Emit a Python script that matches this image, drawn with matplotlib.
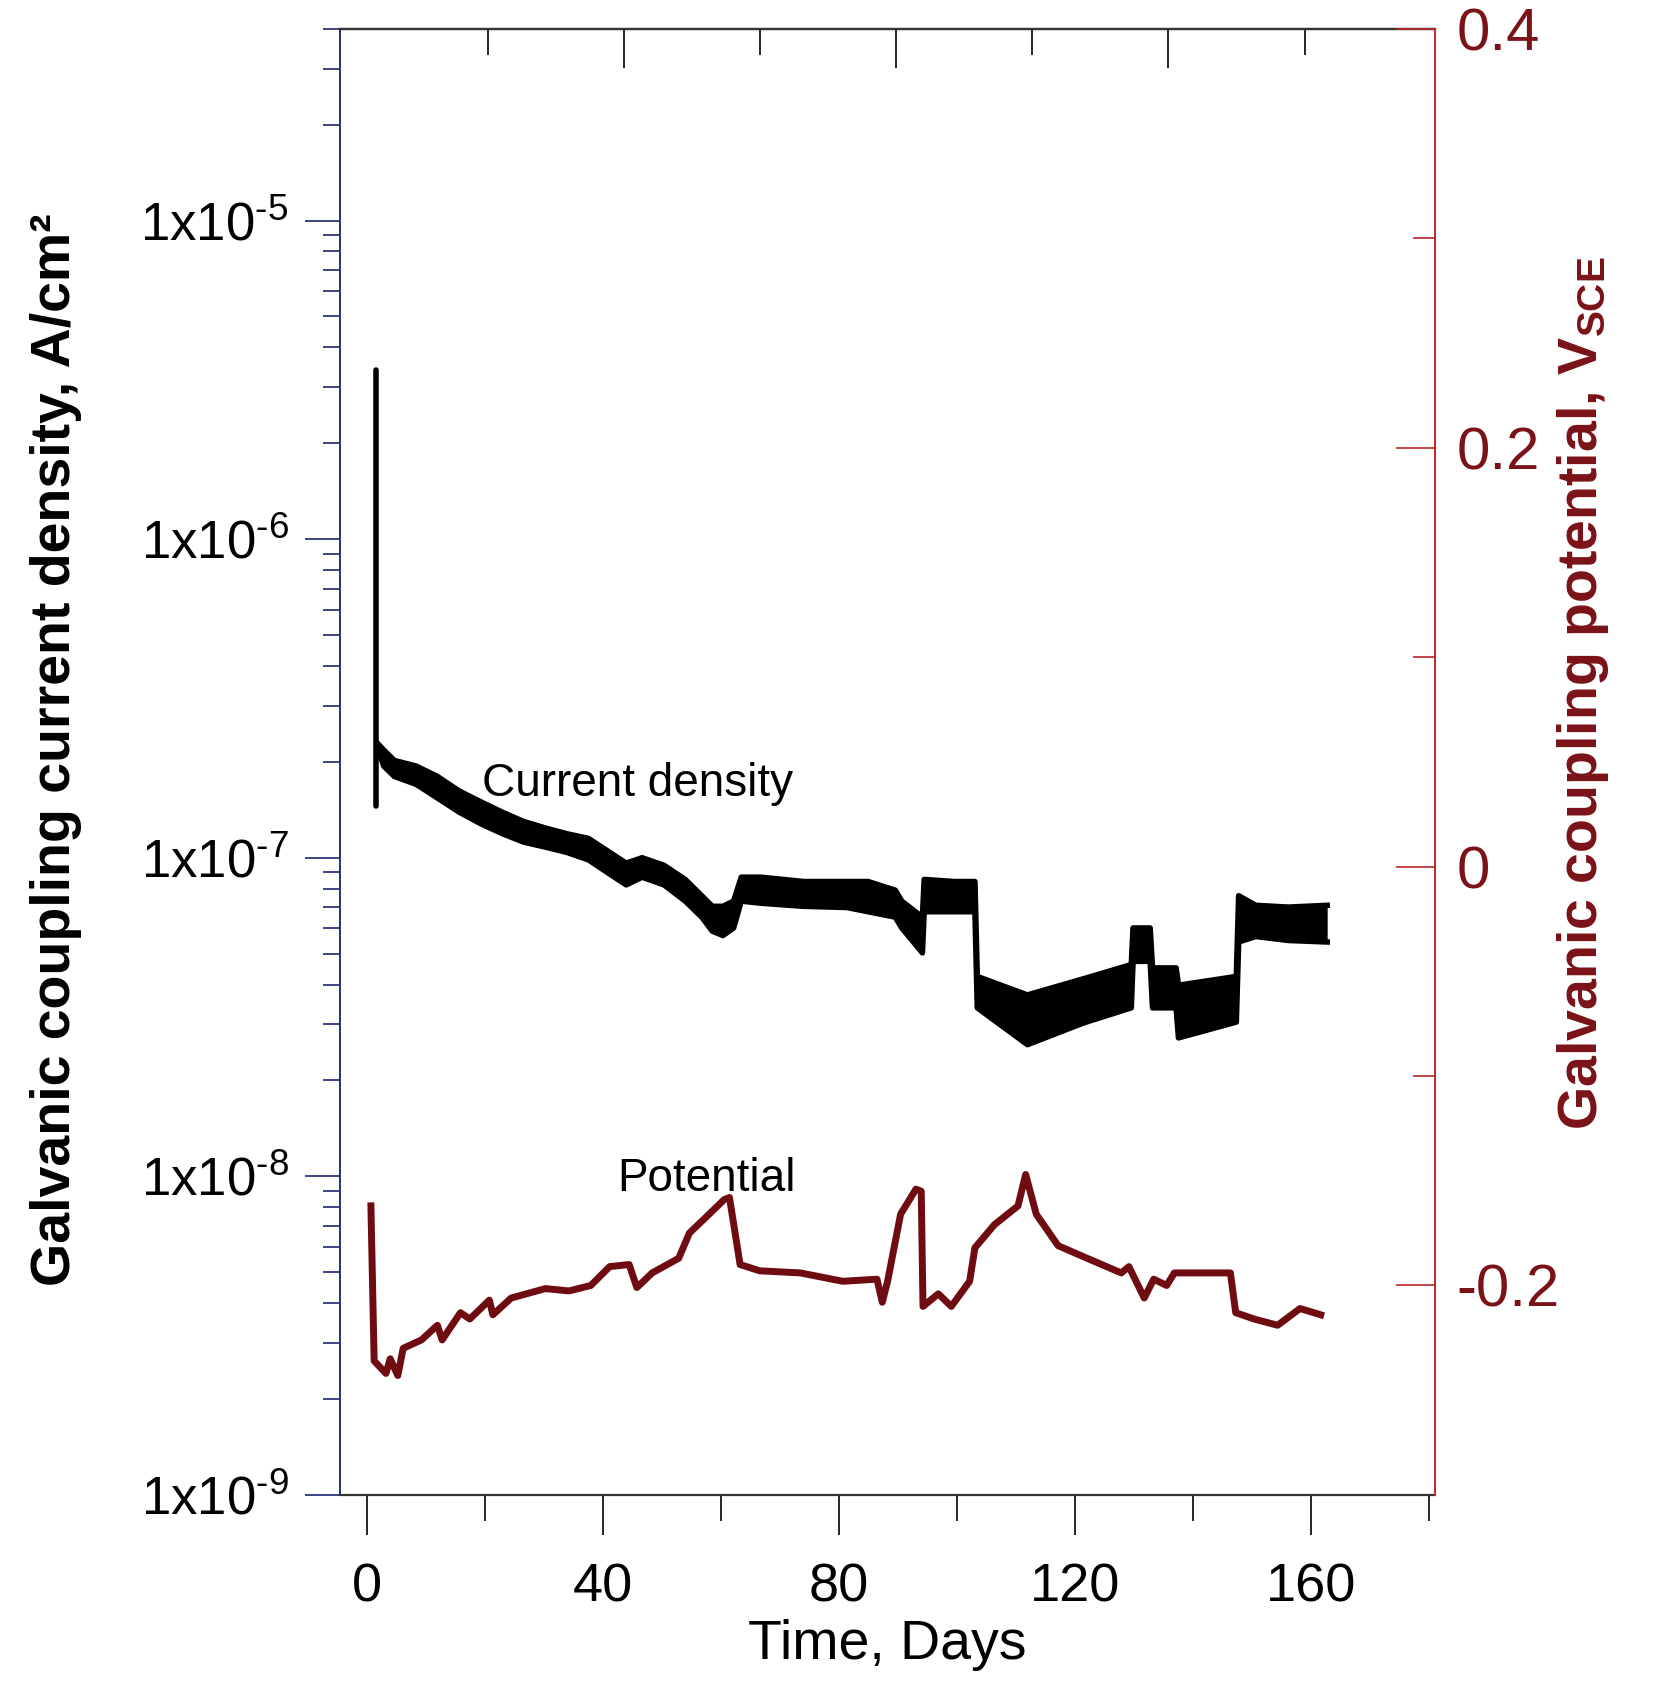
import numpy as np
import matplotlib
matplotlib.use("Agg")
import matplotlib.pyplot as plt
from matplotlib.ticker import FixedLocator, FixedFormatter, LogLocator, NullFormatter

plt.rcParams['font.family'] = ['Liberation Sans', 'DejaVu Sans']
plt.rcParams['mathtext.default'] = 'regular'

# current density band, days / A cm-2
cd_day = [2.0, 2.9, 4.7, 8.4, 12.0, 15.7, 19.3, 23.0, 26.6, 30.3, 33.9, 37.6, 41.2, 44.0, 46.7,
          50.4, 54.0, 56.8, 58.6, 60.4, 62.2, 63.5, 66.8, 74.1, 81.4, 85.0, 89.6, 90.7, 94.2, 94.5,
          99.6, 103.1, 103.5, 112.0, 121.5, 129.6, 129.9, 132.8, 133.2, 137.2, 137.6, 147.4, 147.8,
          150.7, 156.2, 162.8]
cd_low = [2.18e-7, 1.94e-7, 1.80e-7, 1.70e-7, 1.54e-7, 1.39e-7, 1.28e-7, 1.19e-7, 1.12e-7, 1.08e-7,
          1.04e-7, 9.85e-8, 8.89e-8, 8.22e-8, 8.69e-8, 8.22e-8, 7.31e-8, 6.51e-8, 5.88e-8, 5.70e-8,
          6.02e-8, 7.31e-8, 7.20e-8, 7.04e-8, 6.98e-8, 6.77e-8, 6.51e-8, 6.02e-8, 5.03e-8, 6.77e-8,
          6.77e-8, 6.77e-8, 3.38e-8, 2.59e-8, 3.03e-8, 3.38e-8, 4.73e-8, 4.73e-8, 3.38e-8, 3.38e-8,
          2.72e-8, 3.05e-8, 5.44e-8, 5.66e-8, 5.50e-8, 5.44e-8]
cd_high = [2.27e-7, 2.18e-7, 2.02e-7, 1.94e-7, 1.80e-7, 1.62e-7, 1.50e-7, 1.39e-7, 1.30e-7, 1.24e-7,
           1.19e-7, 1.15e-7, 1.04e-7, 9.62e-8, 1.00e-7, 9.47e-8, 8.55e-8, 7.60e-8, 7.04e-8, 7.04e-8,
           7.31e-8, 8.69e-8, 8.69e-8, 8.42e-8, 8.42e-8, 8.42e-8, 7.91e-8, 7.31e-8, 6.51e-8, 8.55e-8,
           8.42e-8, 8.42e-8, 4.24e-8, 3.71e-8, 4.17e-8, 4.62e-8, 6.02e-8, 6.02e-8, 4.51e-8, 4.51e-8,
           3.98e-8, 4.24e-8, 7.60e-8, 7.09e-8, 7.00e-8, 7.09e-8]
spike_day = [1.64, 1.64]
spike_cd = [1.45e-7, 3.4e-6]

# galvanic coupling potential, V_SCE
pot_day = [0.73, 1.28, 3.28, 4.0, 5.29, 6.2, 9.3, 12.0, 12.8, 15.9, 17.5, 20.8, 21.4, 24.5, 30.3,
           34.3, 38.0, 41.2, 44.5, 45.8, 48.4, 52.9, 54.7, 57.3, 60.6, 61.5, 63.3, 66.6, 73.5, 80.7,
           86.5, 87.4, 88.3, 90.5, 93.1, 94.0, 94.3, 96.9, 99.1, 102.2, 103.1, 106.4, 110.4, 111.7,
           113.5, 117.2, 122.1, 127.9, 129.2, 131.8, 133.4, 135.6, 136.9, 146.4, 147.3, 150.4, 154.4,
           158.2, 161.7]
pot_v = [-0.162, -0.236, -0.242, -0.235, -0.243, -0.230, -0.226, -0.219, -0.226, -0.213, -0.216,
         -0.207, -0.214, -0.206, -0.2015, -0.2026, -0.200, -0.191, -0.190, -0.201, -0.194, -0.187,
         -0.175, -0.168, -0.159, -0.158, -0.190, -0.193, -0.194, -0.198, -0.197, -0.208, -0.198,
         -0.166, -0.154, -0.155, -0.210, -0.204, -0.210, -0.198, -0.182, -0.171, -0.162, -0.147,
         -0.166, -0.181, -0.187, -0.194, -0.191, -0.206, -0.197, -0.200, -0.194, -0.194, -0.213,
         -0.216, -0.219, -0.211, -0.214]

x_major = [0, 40, 80, 120, 160]
x_minor = [20, 60, 100, 140, 180]
top_major = [43.6, 89.7, 135.9]
top_minor = [20.5, 66.6, 112.8, 159.0]
y_major = [1e-9, 1e-8, 1e-7, 1e-6, 1e-5]
y_labels = ['1x10$^{\u20109}$', '1x10$^{\u20108}$', '1x10$^{\u20107}$',
            '1x10$^{\u20106}$', '1x10$^{\u20105}$']
v_major = [-0.2, 0, 0.2, 0.4]
v_labels = ['-0.2', '0', '0.2', '0.4']
v_minor = [-0.1, 0.1, 0.3]

darkred = '#6e0c12'
labred = '#7a1218'

fig = plt.figure(figsize=(16.71, 16.93), dpi=100)
ax = fig.add_axes([0.2035, 0.117, 0.655, 0.866])
ax.set_yscale('log')
ax.set_xlim(-4.5, 181)
ax.set_ylim(1e-9, 4.0e-5)

ax.fill_between(cd_day, cd_low, cd_high, color='black', lw=0)
ax.plot(cd_day, cd_low, color='black', lw=4, solid_joinstyle='round')
ax.plot(cd_day, cd_high, color='black', lw=4, solid_joinstyle='round')
ax.plot(spike_day, spike_cd, color='black', lw=4, solid_capstyle='round')
ax.text(19.5, 1.70e-7, 'Current density', fontsize=33, ha='left', va='center')

ax.xaxis.set_major_locator(FixedLocator(x_major))
ax.xaxis.set_minor_locator(FixedLocator(x_minor))
ax.yaxis.set_major_locator(FixedLocator(y_major))
ax.yaxis.set_major_formatter(FixedFormatter(y_labels))
ax.yaxis.set_minor_locator(LogLocator(base=10, subs=np.arange(2, 10)))
ax.yaxis.set_minor_formatter(NullFormatter())

ax.tick_params(axis='x', which='major', direction='out', length=29, width=1.2, labelsize=39, pad=20)
ax.tick_params(axis='x', which='minor', direction='out', length=19, width=1.2)
ax.tick_params(axis='y', which='major', direction='out', length=25, width=1.2, labelsize=38,
               pad=12, color='#1a2470')
ax.tick_params(axis='y', which='minor', direction='out', length=12, width=1.2, color='#1a2470')
ax.tick_params(top=False, right=False)

ax.spines['left'].set_color('#22307a')
ax.spines['left'].set_linewidth(1.4)
ax.spines['bottom'].set_color('#333333')
ax.spines['bottom'].set_linewidth(1.6)
ax.spines['top'].set_color('#333333')
ax.spines['top'].set_linewidth(1.6)
ax.spines['right'].set_visible(False)

ax.set_xlabel('Time, Days', fontsize=40, labelpad=4)
ax.set_ylabel('Galvanic coupling current density, A/cm\u00b2', fontsize=40, fontweight='bold')
ax.yaxis.set_label_coords(-0.236, 0.508)

# odd tick set on the top frame of the original
sec = ax.secondary_xaxis('top')
sec.xaxis.set_major_locator(FixedLocator(top_major))
sec.xaxis.set_minor_locator(FixedLocator(top_minor))
sec.tick_params(axis='x', which='major', direction='in', length=28, width=1.2, labeltop=False)
sec.tick_params(axis='x', which='minor', direction='in', length=19, width=1.2)
sec.spines['top'].set_color('#333333')
sec.spines['top'].set_linewidth(1.6)

ax2 = ax.twinx()
ax2.set_ylim(-0.3, 0.4)
ax2.plot(pot_day, pot_v, color=darkred, lw=5, solid_joinstyle='round')
ax2.text(42.5, -0.149, 'Potential', fontsize=33, ha='left', va='center')
ax2.yaxis.set_major_locator(FixedLocator(v_major))
ax2.yaxis.set_major_formatter(FixedFormatter(v_labels))
ax2.yaxis.set_minor_locator(FixedLocator(v_minor))
ax2.tick_params(axis='y', which='major', direction='in', length=28, width=1.2, labelsize=43,
                pad=16, color='#b8282e', labelcolor=labred)
ax2.tick_params(axis='y', which='minor', direction='in', length=16, width=1.2, color='#b8282e')
for s in ['left', 'top', 'bottom']:
    ax2.spines[s].set_visible(False)
ax2.spines['right'].set_color('#c0282e')
ax2.spines['right'].set_linewidth(1.4)
ax2.set_ylabel('Galvanic coupling potential, V$_{SCE}$', fontsize=40, fontweight='bold',
               color=labred, rotation=90)
ax2.yaxis.set_label_coords(1.11, 0.547)

fig.savefig('out.png', dpi=100, facecolor='white')
